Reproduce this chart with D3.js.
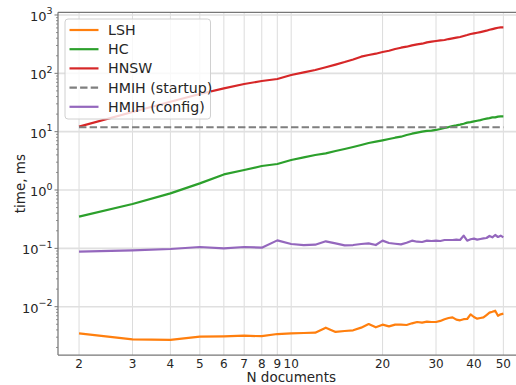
<!DOCTYPE html>
<html>
<head>
<meta charset="utf-8">
<script src="https://cdn.jsdelivr.net/npm/d3@7"></script>
<style>
  body { margin: 0; background: #fff; }
  svg { display: block; font-family: 'DejaVu Sans', sans-serif; }
</style>
</head>
<body>
<div id="chart"></div>
<script>
// N documents (x categories)
const nDocs = [2, 3, 4, 5, 6, 7, 8, 9, 10, 11, 12, 13, 14, 15, 16, 17, 18, 19, 20,
  21, 22, 23, 24, 25, 26, 27, 28, 29, 30, 31, 32, 33, 34, 35, 36, 37, 38, 39, 40,
  41, 42, 43, 44, 45, 46, 47, 48, 49, 50];

// time, ms
const lsh = [0.0035, 0.00276, 0.00269, 0.00306, 0.0031, 0.00318, 0.00312, 0.0034, 0.0035,
  0.00354, 0.00359, 0.00437, 0.00369, 0.00383, 0.00394, 0.00437, 0.00505, 0.00443, 0.00492,
  0.00461, 0.00492, 0.00492, 0.00486, 0.00519, 0.00547, 0.00532, 0.00554, 0.00547, 0.00547,
  0.0057, 0.0061, 0.0064, 0.00657, 0.006, 0.00584, 0.0061, 0.00615, 0.0074, 0.00666,
  0.00624, 0.0064, 0.00657, 0.0072, 0.0079, 0.0082, 0.00855, 0.007, 0.0074, 0.0076];

const hc = [0.349, 0.575, 0.877, 1.30, 1.85, 2.20, 2.58, 2.79, 3.27,
  3.63, 3.98, 4.25, 4.66, 5.04, 5.46, 5.91, 6.39, 6.73, 7.10,
  7.48, 7.88, 8.20, 8.76, 9.23, 9.61, 10.0, 10.3, 10.4, 10.7,
  11.1, 11.6, 12.0, 12.5, 12.8, 13.2, 13.7, 14.3, 14.6, 15.0,
  15.4, 15.8, 16.3, 16.7, 17.1, 17.6, 17.6, 18.1, 18.3, 18.3];

const hnsw = [12.2, 21.7, 32.6, 44.2, 55.3, 65.6, 73.8, 79.9, 93.5,
  104, 114, 127, 141, 156, 173, 193, 206, 217, 232,
  244, 261, 275, 286, 302, 314, 322, 340, 349, 358,
  367, 373, 387, 397, 408, 419, 436, 453, 472, 484,
  497, 510, 524, 538, 559, 574, 590, 605, 614, 614];

const hmihStartup = 11.9;

const hmihConfig = [0.0877, 0.0925, 0.0975, 0.1055, 0.100, 0.1055, 0.1028, 0.137, 0.1188,
  0.114, 0.1156, 0.132, 0.122, 0.1127, 0.114, 0.1188, 0.122, 0.114, 0.1355,
  0.1236, 0.120, 0.117, 0.125, 0.1355, 0.130, 0.1285, 0.1355, 0.1336, 0.1355,
  0.1336, 0.139, 0.139, 0.139, 0.141, 0.139, 0.165, 0.1355, 0.143, 0.1466,
  0.141, 0.1446, 0.1486, 0.1505, 0.163, 0.1545, 0.1694, 0.1566, 0.165, 0.1545];

const xTickValues = [2, 3, 4, 5, 6, 7, 8, 9, 10, 20, 30, 40, 50];
const yTickValues = [1e-2, 1e-1, 1e0, 1e1, 1e2, 1e3];
const yTickExps = ['\u22122', '\u22121', '0', '1', '2', '3'];

const series = [
  { name: 'LSH', values: lsh, color: '#ff7f0e' },
  { name: 'HC', values: hc, color: '#2ca02c' },
  { name: 'HNSW', values: hnsw, color: '#d62728' },
  { name: 'HMIH (startup)', values: null, color: '#7f7f7f', dash: '7.4,3.2' },
  { name: 'HMIH (config)', values: hmihConfig, color: '#9467bd' }
];

const width = 516, height = 385;
const plot = { left: 58, right: 524.5, top: 12.3, bottom: 355 };

const svg = d3.select('#chart').append('svg')
  .attr('width', width).attr('height', height);

const x = d3.scaleLog().domain([1.705, 58.7]).range([plot.left, plot.right]);
const y = d3.scaleLog().domain([0.001486, 1112]).range([plot.bottom, plot.top]);

// grid
const grid = svg.append('g');
grid.selectAll('.vgrid')
  .data(xTickValues)
  .join('line')
  .attr('x1', d => x(d)).attr('x2', d => x(d))
  .attr('y1', plot.top).attr('y2', plot.bottom)
  .attr('stroke', '#dcdcdc').attr('stroke-width', 1);
grid.selectAll('.hgrid')
  .data(yTickValues)
  .join('line')
  .attr('x1', plot.left).attr('x2', plot.right)
  .attr('y1', d => y(d)).attr('y2', d => y(d))
  .attr('stroke', '#e0e0e0').attr('stroke-width', 1.6);

// lines
const line = d3.line()
  .x((d, i) => x(nDocs[i]))
  .y(d => y(d));

series.forEach(s => {
  if (s.values) {
    svg.append('path')
      .datum(s.values)
      .attr('d', line)
      .attr('fill', 'none')
      .attr('stroke', s.color)
      .attr('stroke-width', 2.2)
      .attr('stroke-linejoin', 'round');
  } else {
    svg.append('line')
      .attr('x1', x(nDocs[0])).attr('x2', x(nDocs[nDocs.length - 1]))
      .attr('y1', y(hmihStartup)).attr('y2', y(hmihStartup))
      .attr('stroke', s.color)
      .attr('stroke-width', 2)
      .attr('stroke-dasharray', s.dash);
  }
});

// spines
const spine = svg.append('g').attr('stroke', '#777').attr('stroke-width', 1.25);
spine.append('line').attr('x1', plot.left).attr('x2', plot.left).attr('y1', plot.top).attr('y2', plot.bottom);
spine.append('line').attr('x1', plot.left).attr('x2', plot.right).attr('y1', plot.bottom).attr('y2', plot.bottom);
spine.append('line').attr('x1', plot.left).attr('x2', plot.right).attr('y1', plot.top).attr('y2', plot.top);

// y minor ticks
const yMinor = [];
for (let e = -3; e <= 3; e++) {
  for (let m = 2; m <= 9; m++) {
    const v = m * Math.pow(10, e);
    if (v > y.domain()[0] && v < y.domain()[1]) yMinor.push(v);
  }
}
svg.append('g').selectAll('line')
  .data(yMinor)
  .join('line')
  .attr('x1', plot.left - 2).attr('x2', plot.left)
  .attr('y1', d => y(d)).attr('y2', d => y(d))
  .attr('stroke', '#777').attr('stroke-width', 0.8);
svg.append('g').selectAll('line')
  .data(yTickValues)
  .join('line')
  .attr('x1', plot.left - 3.5).attr('x2', plot.left)
  .attr('y1', d => y(d)).attr('y2', d => y(d))
  .attr('stroke', '#777').attr('stroke-width', 1);

// y tick labels
const yLab = svg.append('g').attr('fill', '#262626').attr('font-size', 13);
yTickValues.forEach((v, i) => {
  const t = yLab.append('text')
    .attr('x', plot.left - 5.5)
    .attr('y', y(v) + 6)
    .attr('text-anchor', 'end');
  t.append('tspan').text('10');
  t.append('tspan').attr('dy', -6.5).attr('font-size', 9.5).text(yTickExps[i]);
});

// x tick labels
svg.append('g').attr('fill', '#262626').attr('font-size', 12)
  .selectAll('text')
  .data(xTickValues)
  .join('text')
  .attr('x', d => x(d))
  .attr('y', 368)
  .attr('text-anchor', 'middle')
  .text(d => d);

// axis titles
svg.append('text')
  .attr('x', (plot.left + plot.right) / 2).attr('y', 381.5)
  .attr('text-anchor', 'middle').attr('font-size', 13.5).attr('fill', '#262626')
  .text('N documents');
svg.append('text')
  .attr('transform', `translate(24.5,${(plot.top + plot.bottom) / 2}) rotate(-90)`)
  .attr('text-anchor', 'middle').attr('font-size', 13.5).attr('fill', '#262626')
  .text('time, ms');

// legend
const legend = svg.append('g');
legend.append('rect')
  .attr('x', 65).attr('y', 19).attr('width', 145.5).attr('height', 100)
  .attr('rx', 3)
  .attr('fill', '#fff').attr('fill-opacity', 0.8)
  .attr('stroke', '#d0d0d0').attr('stroke-width', 1);
series.forEach((s, i) => {
  const yy = 30 + i * 19.2;
  legend.append('line')
    .attr('x1', 69.5).attr('x2', 98.5).attr('y1', yy).attr('y2', yy)
    .attr('stroke', s.color).attr('stroke-width', 2.2)
    .attr('stroke-dasharray', s.dash || null);
  legend.append('text')
    .attr('x', 108).attr('y', yy + 5)
    .attr('font-size', 14.2).attr('fill', '#262626')
    .text(s.name);
});
</script>
</body>
</html>
